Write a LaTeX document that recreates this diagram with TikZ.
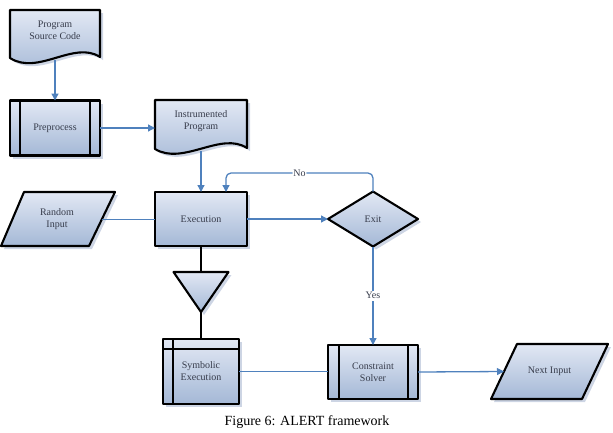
\documentclass[tikz,border=0pt]{standalone}
\usepackage{fontspec}
\setmainfont{Liberation Serif}
\usetikzlibrary{arrows.meta,calc,shapes.geometric,shadows}

\definecolor{flowblue}{RGB}{79,129,189}
\definecolor{filltop}{RGB}{226,232,244}
\definecolor{fillbot}{RGB}{164,184,214}
\definecolor{shadowblue}{RGB}{205,213,228}
\definecolor{textgray}{RGB}{55,60,75}

\begin{document}
\begin{tikzpicture}[
    x=1pt, y=-1pt,
    >={Triangle[length=7pt,width=7pt]},
    line join=round,
    font=\fontsize{10}{12}\selectfont,
    shp/.style={draw=black, line width=2.1pt, top color=filltop, bottom color=fillbot,
        drop shadow={shadow xshift=3pt, shadow yshift=-3pt, fill=shadowblue, opacity=1}},
    box/.style={shp, rectangle, outer sep=0pt, inner sep=1pt, align=center, text=textgray},
    lbl/.style={inner sep=0pt, outer sep=0pt, align=center, text=textgray},
    flow/.style={->, draw=flowblue, line width=1.3pt},
    link/.style={draw=flowblue, line width=1pt},
    wire/.style={draw=black, line width=2.1pt}
]

\useasboundingbox (0,0) rectangle (613,432);

% -----------------------
% Document shapes
% -----------------------
\draw[shp] (10,10) -- (100,10) -- (100,57)
    .. controls (74,40) and (38,76) .. (10,58) -- cycle;
\draw[shp] (155,100) -- (247,100) -- (247,148)
    .. controls (221,131) and (183,166) .. (155,149) -- cycle;

\node[lbl, minimum width=90pt] (src) at (55,30) {Program\\Source Code};
\node[lbl, minimum width=92pt] (ins) at (201,121) {Instrumented\\Program};

\coordinate (src-w) at (55,60);
\coordinate (ins-w) at (201,151);

% -----------------------
% Input shapes
% -----------------------
\draw[shp] (24,192) -- (115,192) -- (89,246) -- (1,246) -- cycle;
\draw[shp] (517,344) -- (608,344) -- (582,399) -- (491,399) -- cycle;

\node[lbl, minimum width=89pt, minimum height=54pt] (rnd) at (57,219) {Random\\Input};
\node[lbl, minimum width=91pt, minimum height=55pt] (nxt) at (549.5,371.5) {Next Input};

% -----------------------
% Process boxes
% -----------------------
\node[box, minimum width=90pt, minimum height=55pt] (pre) at (55,128) {Preprocess};
\node[box, minimum width=92pt, minimum height=54pt] (exec) at (201,219) {Execution};
\node[box, minimum width=76pt, minimum height=65pt] (sym) at (201,371.5) {Symbolic\\Execution};
\node[box, minimum width=90pt, minimum height=54pt] (csol) at (373,372) {Constraint\\Solver};

\node[shp, diamond, outer sep=0pt, inner sep=0pt, minimum width=90pt, minimum height=55pt,
    text=textgray] (exit) at (373,219) {Exit};

% inner bars
\draw[wire] ([xshift=10pt]pre.north west) -- ([xshift=10pt]pre.south west);
\draw[wire] ([xshift=-10pt]pre.north east) -- ([xshift=-10pt]pre.south east);
\draw[wire] ([xshift=11pt]csol.north west) -- ([xshift=11pt]csol.south west);
\draw[wire] ([xshift=-10pt]csol.north east) -- ([xshift=-10pt]csol.south east);
\draw[wire] ([xshift=10pt]sym.north west) -- ([xshift=10pt]sym.south west);
\draw[wire] ([yshift=-10pt]sym.north west) -- ([yshift=-10pt]sym.north east);

% -----------------------
% Merge triangle
% -----------------------
\draw[shp] (173.5,272) -- (228.5,272) -- (201,312) -- cycle;
\coordinate (mrg-t) at (201,272);
\coordinate (mrg-b) at (201,312);

\draw[wire] (exec.south) -- (mrg-t);
\draw[wire] (mrg-b) -- (sym.north);

% -----------------------
% Connectors
% -----------------------
\draw[flow] (src-w) -- (pre.north);
\draw[flow] (pre.east) -- (pre.east -| ins.west);
\draw[flow] (ins-w) -- (exec.north);
\draw[link] (rnd.east) -- (exec.west);
\draw[flow] (exec.east) -- (exit.west);

\coordinate (loop) at (226,173);
\draw[flow, rounded corners=5pt] (exit.north) |- node[pos=0.75, lbl, fill=white, inner sep=1pt] {No} (loop)
    -- (loop |- exec.north);

\draw[flow] (exit.south) -- node[lbl, fill=white, inner sep=1.5pt] {Yes} (csol.north);
\draw[link] (sym.east) -- (sym.east -| csol.west);
\draw[flow] (csol.east) -- (nxt.west);

% -----------------------
% Caption
% -----------------------
\node (cap) at (307,422) {\fontsize{14}{16}\selectfont Figure 6: ALERT framework};

\end{tikzpicture}
\end{document}
